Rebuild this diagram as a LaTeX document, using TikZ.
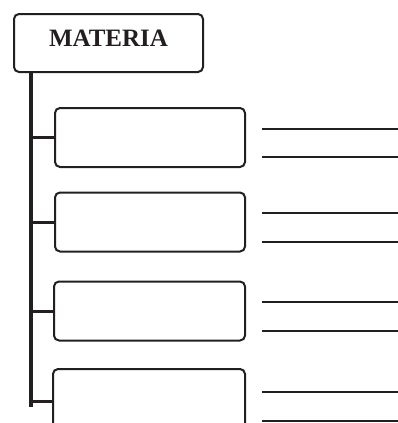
\documentclass[tikz,border=0pt]{standalone}
\usepackage{fontspec}
\setmainfont{Liberation Serif}
\definecolor{ink}{HTML}{231F20}
\begin{document}
\begin{tikzpicture}[x=1pt,y=-1pt,
  box/.style={draw=ink, line width=2pt, rounded corners=5pt, fill=white,
    minimum width=190pt, inner sep=0pt, outer sep=0pt},
  spine/.style={draw=ink, line width=3.5pt},
  branch/.style={draw=ink, line width=3pt},
  rule/.style={draw=ink, line width=1.8pt}]
\useasboundingbox (0,0) rectangle (398,423);
\clip (0,0) rectangle (398,423);

% title box and its label
\node[box, minimum width=189pt, minimum height=58pt] (mat) at (108.5,43) {};
\node[text=ink, font=\fontsize{25}{25}\selectfont\bfseries, inner sep=0pt] (title) at (108.5,38) {MATERIA};

% four empty boxes
\node[box, minimum height=59pt] (b1) at (150,137.5) {};
\node[box, minimum height=59pt] (b2) at (150,222) {};
\node[box, minimum width=191pt, minimum height=59pt] (b3) at (149.5,311) {};
\node[box, minimum width=192pt, minimum height=64pt] (b4) at (149,401) {};

% vertical spine and branches
\coordinate (top) at (31,72);
\coordinate (bot) at (31,407);
\draw[spine] (top) -- (bot);
\draw[branch] (top |- b1.west) -- (b1.west);
\draw[branch] (top |- b2.west) -- (b2.west);
\draw[branch] (top |- b3.west) -- (b3.west);
\draw[branch] (top |- b4.west) -- (b4.west);

% writing lines beside each box
\foreach \y in {129,157,213,242,302,331,392,421}
  \draw[rule] (262,\y) -- (398,\y);
\end{tikzpicture}
\end{document}
